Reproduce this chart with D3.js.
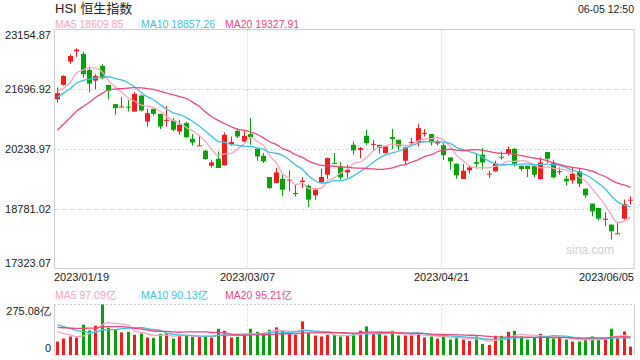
<!DOCTYPE html>
<html><head><meta charset="utf-8">
<script src="https://cdn.jsdelivr.net/npm/d3@7"></script>
<style>
html,body{margin:0;padding:0;background:#fff;}
svg{display:block;font-family:"Liberation Sans",Arial,"Noto Sans CJK SC",sans-serif;}
</style></head><body>
<svg id="c" width="640" height="360"></svg>
<script>
const dates = [
"2023/01/19","2023/01/20","2023/01/26","2023/01/27","2023/01/30","2023/01/31",
"2023/02/01","2023/02/02","2023/02/03","2023/02/06","2023/02/07","2023/02/08","2023/02/09","2023/02/10","2023/02/13","2023/02/14","2023/02/15","2023/02/16","2023/02/17","2023/02/20","2023/02/21","2023/02/22","2023/02/23","2023/02/24","2023/02/27","2023/02/28",
"2023/03/01","2023/03/02","2023/03/03","2023/03/06","2023/03/07","2023/03/08","2023/03/09","2023/03/10","2023/03/13","2023/03/14","2023/03/15","2023/03/16","2023/03/17","2023/03/20","2023/03/21","2023/03/22","2023/03/23","2023/03/24","2023/03/27","2023/03/28","2023/03/29","2023/03/30","2023/03/31",
"2023/04/03","2023/04/04","2023/04/06","2023/04/11","2023/04/12","2023/04/13","2023/04/14","2023/04/17","2023/04/18","2023/04/19","2023/04/20","2023/04/21","2023/04/24","2023/04/25","2023/04/26","2023/04/27","2023/04/28",
"2023/05/02","2023/05/03","2023/05/04","2023/05/05","2023/05/08","2023/05/09","2023/05/10","2023/05/11","2023/05/12","2023/05/15","2023/05/16","2023/05/17","2023/05/18","2023/05/19","2023/05/22","2023/05/23","2023/05/24","2023/05/25","2023/05/29","2023/05/30","2023/05/31",
"2023/06/01","2023/06/02","2023/06/05"];
const opens = [21455,21803,22371,22624,22558,22169,21908,22266,21803,21333,
21260,21272,21153,21543,20910,21219,21097,20934,20934,20666,
20871,20488,20317,20196,19831,20001,19838,20359,20683,20423,
20603,20245,20074,19556,19410,19514,19483,19149,19434,19344,
19108,19424,19612,19901,19814,19668,20342,20220,20561,20354,
20342,20140,20530,20464,19953,20403,20398,20622,20603,20374,
20330,20033,19880,19507,19717,19921,20099,19631,19692,20048,
20116,20245,19831,19831,19831,19507,20165,19911,19687,19514,
19473,19692,19271,18906,18801,18528,18394,18173,18540,18986];
const highs = [21738,22039,22551,22697,22614,22249,22064,22307,21803,21333,
21504,21438,21626,21560,21219,21219,21097,21292,20992,20951,
20895,20603,20561,20220,19977,20179,20642,20544,20732,20666,
20992,20245,20140,19556,19775,19612,19717,19368,19556,19368,
19288,19758,20030,20140,19921,19855,20423,20286,20708,20464,
20342,20301,20732,20464,20301,20505,20846,20725,20603,20464,
20384,20033,19880,19872,19831,20140,20262,19709,19953,20179,
20301,20262,19831,19831,19831,20033,20165,19977,19790,19587,
19790,19751,19271,18906,18801,18694,18394,18460,19003,19083];
const lows = [21372,21786,22322,22485,21981,21626,21699,21942,21455,21073,
21260,21153,21153,21153,20788,21056,20725,20788,20666,20586,
20505,20325,20317,19977,19790,19775,19838,20318,20505,20408,
20342,19953,19897,19264,19410,19100,19205,19083,19288,18825,
19003,19393,19507,19872,19490,19546,20099,20018,20342,20220,
20123,20123,20238,20204,19872,20301,20301,20544,20325,20325,
19977,19734,19514,19507,19636,19758,19734,19531,19692,19977,
20082,19814,19692,19556,19546,19490,19897,19531,19612,19344,
19393,19312,19044,18596,18499,18353,18029,18168,18516,18881];
const closes = [21601,22022,22509,22663,22064,21835,22022,21966,21657,21236,
21275,21263,21584,21178,21114,21097,20788,20951,20708,20829,
20530,20398,20326,19994,19911,19775,20586,20408,20544,20561,
20530,20057,19936,19288,19668,19247,19492,19166,19466,19003,
19247,19556,20018,19892,19546,19734,20204,20262,20384,20364,
20262,20301,20481,20301,20277,20413,20749,20632,20398,20408,
20087,19936,19595,19709,19790,19880,19911,19641,19880,20038,
20238,19880,19751,19751,19612,19911,20001,19546,19697,19449,
19636,19393,19108,18718,18540,18538,18231,18182,18898,19003];
const volumes = [73.2,89.8,100.8,95.3,165,133.8,159.5,275.08,148.5,141.2,
122.9,126.5,110,117.4,95.3,93.5,115.5,119.2,89.8,104.5,
106.3,99,99,100.8,95.3,143,132,95.3,99,110,
143,126.5,119.2,137.5,150.4,132,113.7,110,183.4,119.2,
106,100.8,110,110,100.8,106.3,113.7,132,155.9,113.7,
122.9,106.3,132,106.3,106.3,106.3,119.2,95.3,100.8,89.8,
104.5,84.3,95.3,84.3,77,100.8,60.5,55,104.5,104.5,
126.5,132,100.8,84.3,95.3,115.5,100.8,89.8,95.3,84.3,
73.2,73.2,86,100.8,86,86,143,91.7,128.3,45.8];
// 19 sessions before the first visible one (used only for the moving averages)
const priorCloses = [19094,19160,19679,19593,19898,19741,19781,20145,20793,21052,20991,21388,21331,21436,21514,21738,21746,21578,21678];
const priorVolumes = [120,140,130,150,125,145,130,140,135,135,190,215,200,210,195,150,135,140,142];
const yTicks = [17323.07,18781.02,20238.97,21696.92,23154.87];
const volTicks = [0,275.08];
const xTickDates = ["2023/01/19","2023/03/07","2023/04/21","2023/06/05"];
const maPeriods = [5,10,20];
const maColors = ["#f7a5c1","#3ec2e0","#e94a7d"];
const priceMaLabels = ["MA5 18609.85","MA10 18857.26","MA20 19327.91"];
const volMaLabels = ["MA5 97.09亿","MA10 90.13亿","MA20 95.21亿"];
const title = "HSI 恒生指数";
const stamp = "06-05 12:50";

const UP="#f41d1d", DOWN="#07a207", GRID="#d8d8d8", FRAME="#cfcfcf", TXT="#222";
const L=54,R=634,T=29.5,B=268.5,VT=304.5,VB=355;
const svg=d3.select('#c');
const n=dates.length;
const x=d3.scaleBand().domain(d3.range(n)).range([L,R]);
const y=d3.scaleLinear().domain([yTicks[0],yTicks[yTicks.length-1]]).range([B,T]);
const yv=d3.scaleLinear().domain([0,volTicks[1]]).range([VB,VT]);
const cx=i=>Math.round(x(i)+x.bandwidth()/2-0.5);

function movingAvg(prior,vals,p){
  const all=prior.concat(vals);const off=prior.length;
  return vals.map((v,i)=>d3.mean(all.slice(off+i-p+1,off+i+1)));
}

// header
svg.append('text').attr('x',55).attr('y',13).attr('font-size',13).attr('fill','#222').text(title);
svg.append('text').attr('x',634).attr('y',13).attr('text-anchor','end').attr('font-size',10.5).attr('fill','#222').text(stamp);
const hdrX=[55,141,225];
priceMaLabels.forEach((t,k)=>svg.append('text').attr('x',hdrX[k]).attr('y',27.5).attr('font-size',10.5).attr('fill',maColors[k]).text(t));
volMaLabels.forEach((t,k)=>svg.append('text').attr('x',hdrX[k]).attr('y',299).attr('font-size',10.5).attr('fill',maColors[k]).text(t));

// gridlines
const g=svg.append('g');
yTicks.slice(1,-1).forEach(v=>g.append('line').attr('x1',L).attr('x2',R).attr('y1',Math.round(y(v))+0.5).attr('y2',Math.round(y(v))+0.5).attr('stroke',GRID).attr('stroke-dasharray','2,2'));
const vIdx=[dates.indexOf(xTickDates[1]),dates.indexOf(xTickDates[2])];
vIdx.forEach(i=>{
  const xx=Math.round(x(i))+0.5;
  g.append('line').attr('x1',xx).attr('x2',xx).attr('y1',T).attr('y2',B).attr('stroke',GRID).attr('stroke-dasharray','2,2');
  g.append('line').attr('x1',xx).attr('x2',xx).attr('y1',VT).attr('y2',VB).attr('stroke',GRID).attr('stroke-dasharray','2,2');
});
// frames
g.append('rect').attr('x',L+0.5).attr('y',T).attr('width',R-L-0.5).attr('height',B-T).attr('fill','none').attr('stroke',FRAME);
g.append('line').attr('x1',L).attr('x2',R).attr('y1',VT).attr('y2',VT).attr('stroke',FRAME).attr('stroke-dasharray','2,2');
g.append('line').attr('x1',L).attr('x2',R).attr('y1',VB).attr('y2',VB).attr('stroke',FRAME).attr('stroke-dasharray','2,2');
g.append('line').attr('x1',R+0.5).attr('x2',R+0.5).attr('y1',VT).attr('y2',VB).attr('stroke',FRAME);
g.append('line').attr('x1',L+0.5).attr('x2',L+0.5).attr('y1',VT).attr('y2',VB).attr('stroke',FRAME);

// watermark
svg.append('text').attr('x',614).attr('y',254).attr('text-anchor','end').attr('font-size',12).attr('fill','#cfcfcf').text('sina.com');

// y axes
const ya=svg.append('g').attr('transform',`translate(${L},0)`)
  .call(d3.axisLeft(y).tickValues(yTicks).tickSize(0).tickPadding(3).tickFormat(d=>d.toFixed(2)));
ya.select('.domain').remove();
ya.selectAll('text').attr('font-size',11).attr('fill',TXT).attr('font-family',null)
  .attr('dy',(d,i)=>i===yTicks.length-1?'0.85em':(i===0?'-0.15em':'0.32em'));
const va=svg.append('g').attr('transform',`translate(${L},0)`)
  .call(d3.axisLeft(yv).tickValues(volTicks).tickSize(0).tickPadding(3).tickFormat(d=>d===0?'0':d.toFixed(2)+'亿'));
va.select('.domain').remove();
va.selectAll('text').attr('font-size',11).attr('fill',TXT).attr('font-family',null)
  .attr('dy',(d,i)=>i===1?'0.95em':'-0.3em');

// x labels
xTickDates.forEach((dt,k)=>{
  const i=dates.indexOf(dt);
  let xx=Math.round(x(i))+0.5, anchor='middle';
  if(k===0){xx=L;anchor='start';}
  if(k===xTickDates.length-1){xx=R;anchor='end';}
  svg.append('text').attr('x',xx).attr('y',280.5).attr('text-anchor',anchor).attr('font-size',11).attr('fill',TXT).text(dt);
});

// volume bars
svg.append('g').selectAll('rect').data(volumes).join('rect')
  .attr('x',(d,i)=>cx(i)-1).attr('width',3)
  .attr('y',d=>yv(d)).attr('height',d=>VB-yv(d))
  .attr('fill',(d,i)=>closes[i]>=opens[i]?UP:DOWN);

// candles
const cg=svg.append('g');
d3.range(n).forEach(i=>{
  const col=closes[i]>=opens[i]?UP:DOWN;
  const c=cx(i);
  cg.append('line').attr('x1',c+0.5).attr('x2',c+0.5).attr('y1',y(highs[i])).attr('y2',y(lows[i])).attr('stroke',col);
  const top=y(Math.max(opens[i],closes[i])), bot=y(Math.min(opens[i],closes[i]));
  cg.append('rect').attr('x',c-2).attr('width',5).attr('y',top).attr('height',Math.max(1,bot-top)).attr('fill',col);
});

// MA lines
const line=d3.line().x((d,i)=>cx(i)+0.5).curve(d3.curveMonotoneX);
maPeriods.forEach((p,k)=>{
  const m=movingAvg(priorCloses,closes,p);
  svg.append('path').attr('d',line.y(d=>y(d))(m)).attr('fill','none').attr('stroke',maColors[k]).attr('stroke-width',1.3);
  const mv=movingAvg(priorVolumes,volumes,p);
  svg.append('path').attr('d',line.y(d=>yv(d))(mv)).attr('fill','none').attr('stroke',maColors[k]).attr('stroke-width',1.3);
});
</script>
</body></html>
